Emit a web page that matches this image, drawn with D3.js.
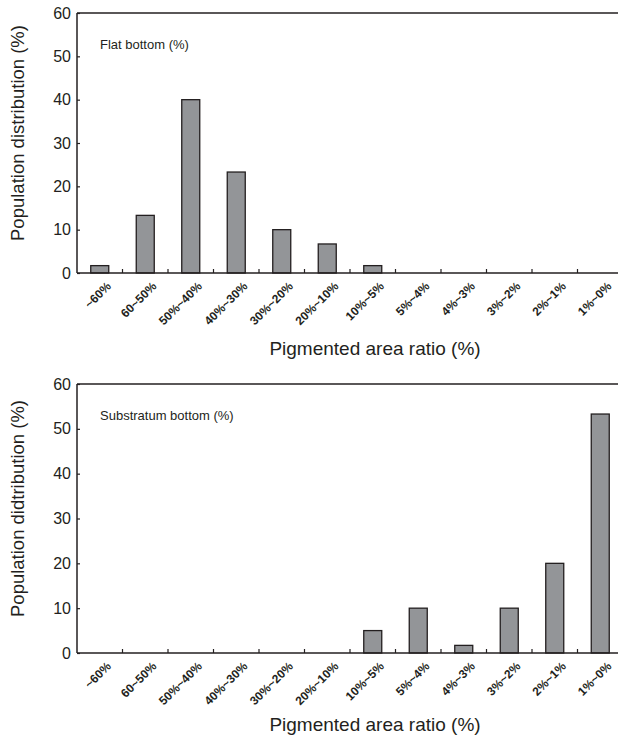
<!DOCTYPE html>
<html><head><meta charset="utf-8">
<script src="https://cdn.jsdelivr.net/npm/d3@7"></script>
<style>body{margin:0;background:#fff}svg{display:block;font-family:"Liberation Sans",Arial,sans-serif}</style>
</head><body>
<svg id="c" width="618" height="737"></svg>
<script>
const categories = ["~60%","60~50%","50%~40%","40%~30%","30%~20%","20%~10%","10%~5%","5%~4%","4%~3%","3%~2%","2%~1%","1%~0%"];
const flatValues = [1.7,13.3,40,23.3,10,6.7,1.7,0,0,0,0,0];
const substratumValues = [0,0,0,0,0,0,5,10,1.7,10,20,53.3];
const yTicks = [0,10,20,30,40,50,60];

const svg = d3.select("#c");
const ink = "#231f20";

function panel(values, top, bottom, yTitle, inner, xTitleY) {
  const left = 77, right = 623;
  const x = d3.scaleBand().domain(categories).range([left, right]).paddingInner(0).paddingOuter(0);
  const y = d3.scaleLinear().domain([0,60]).range([bottom, top]);
  const g = svg.append("g");
  const bw = 18;
  g.selectAll("rect.bar").data(values.map((v,i)=>({c:categories[i],v}))).enter()
    .filter(d=>d.v>0)
    .append("rect")
    .attr("x", d=>x(d.c)+x.bandwidth()/2-bw/2)
    .attr("y", d=>y(d.v))
    .attr("width", bw)
    .attr("height", d=>y(0)-y(d.v))
    .attr("fill", "#939598").attr("stroke", ink).attr("stroke-width", 1.3);
  const ya = d3.axisLeft(y).tickValues(yTicks).tickSize(0).tickPadding(6);
  const yg = g.append("g").attr("transform", `translate(${left},0)`).call(ya);
  yg.select(".domain").remove();
  yg.selectAll("text").attr("font-size", 16).attr("fill", ink).attr("font-family", "Liberation Sans, Arial, sans-serif");
  yg.selectAll(".tick").append("line").attr("x1",0).attr("x2",3).attr("stroke",ink).attr("stroke-width",1.2);
  g.append("line").attr("x1",left).attr("x2",left).attr("y1",top).attr("y2",bottom).attr("stroke",ink).attr("stroke-width",1.5);
  g.append("line").attr("x1",left).attr("x2",618).attr("y1",top).attr("y2",top).attr("stroke",ink).attr("stroke-width",1.5);
  g.append("line").attr("x1",left).attr("x2",618).attr("y1",bottom).attr("y2",bottom).attr("stroke",ink).attr("stroke-width",1.5);
  const bounds = categories.slice(1).map(c=>x(c));
  g.selectAll("line.xt").data(bounds).enter().append("line")
    .attr("x1",d=>d).attr("x2",d=>d).attr("y1",bottom).attr("y2",bottom-4)
    .attr("stroke",ink).attr("stroke-width",1.2);
  g.selectAll("text.xl").data(categories).enter().append("text")
    .attr("transform", d=>`translate(${x(d)+x.bandwidth()/2+6},${bottom+8}) rotate(-45)`)
    .attr("text-anchor","end").attr("dy","0.7em")
    .attr("font-size",12).attr("font-weight","bold").attr("fill",ink)
    .text(d=>d);
  g.append("text").attr("transform", `translate(24,${(top+bottom)/2 - 10}) rotate(-90)`)
    .attr("text-anchor","middle").attr("font-size",18.5).attr("fill",ink).text(yTitle);
  g.append("text").attr("x",375).attr("y",xTitleY).attr("text-anchor","middle")
    .attr("font-size",19).attr("fill",ink).text("Pigmented area ratio (%)");
  g.append("text").attr("x",100).attr("y",top+36).attr("font-size",13).attr("fill",ink).text(inner);
}

panel(flatValues, 13, 273, "Population distribution (%)", "Flat bottom (%)", 355);
panel(substratumValues, 384, 653, "Population didtribution (%)", "Substratum bottom (%)", 731);
</script>
</body></html>
